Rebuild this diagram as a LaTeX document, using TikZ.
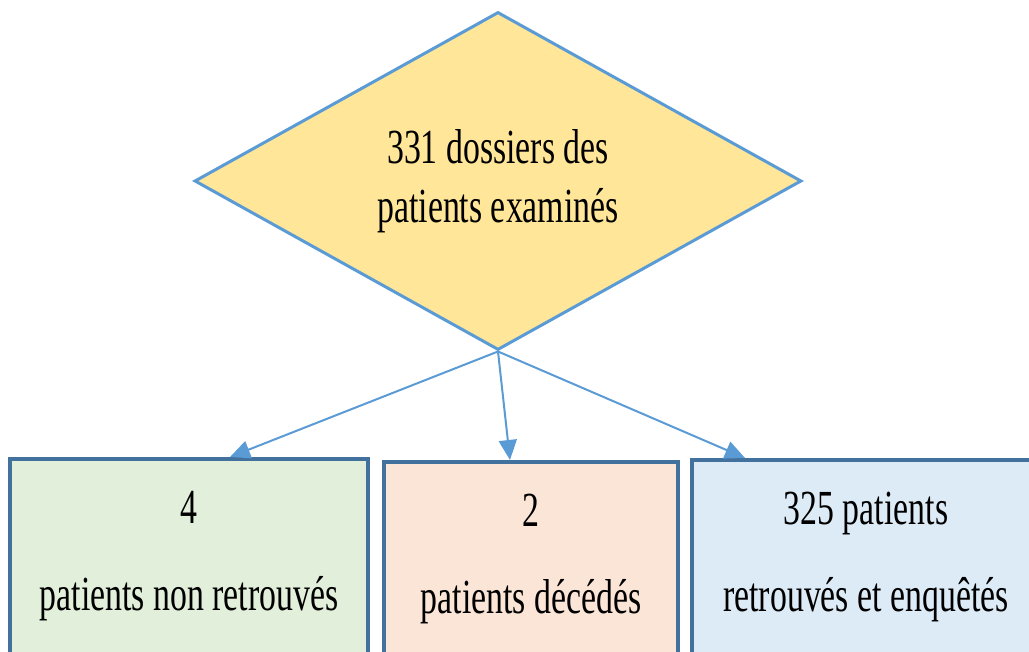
\documentclass[tikz,border=0pt]{standalone}
\usepackage{fontspec}
\setmainfont{Liberation Serif}[FakeStretch=0.69]
\usetikzlibrary{shapes.geometric,arrows.meta}
\definecolor{diaborder}{HTML}{5B9BD5}
\definecolor{diafill}{HTML}{FFE699}
\definecolor{boxborder}{HTML}{41719C}
\definecolor{greenfill}{HTML}{E2EFDA}
\definecolor{rosefill}{HTML}{FBE5D6}
\definecolor{bluefill}{HTML}{DDEBF7}
\tikzset{
  txt/.style={font=\fontsize{49}{59}\selectfont, align=center},
  outcome/.style={txt, draw=boxborder, line width=4pt, anchor=north,
    inner xsep=0pt, inner ysep=32pt, text depth=90pt},
  link/.style={draw=diaborder, line width=2pt,
    -{Triangle[length=20pt,width=18pt]}}
}
\begin{document}
\begin{tikzpicture}[x=1pt,y=1pt]
\path[use as bounding box, clip] (0,0) rectangle (1029,652);
\node[txt, diamond, aspect=1.8, draw=diaborder, fill=diafill, line width=3pt,
  inner sep=0pt, minimum width=607pt, minimum height=338pt]
  (exam) at (498,471) {331 dossiers des\\patients examinés};
\node[outcome, fill=greenfill, minimum width=358pt] (nonret) at (189,195)
  {4\\[28pt]patients non retrouvés};
\node[outcome, fill=rosefill, minimum width=294pt] (deces) at (531,192)
  {2\\[28pt]patients décédés};
\node[outcome, fill=bluefill, minimum width=348pt] (retr) at (866,194)
  {325 patients\\[28pt]retrouvés et enquêtés};
\draw[link] (exam.south) -- ([xshift=41pt]nonret.north);
\draw[link] (exam.south) -- ([xshift=-21pt]deces.north);
\draw[link] (exam.south) -- ([xshift=-121pt]retr.north);
\end{tikzpicture}
\end{document}
